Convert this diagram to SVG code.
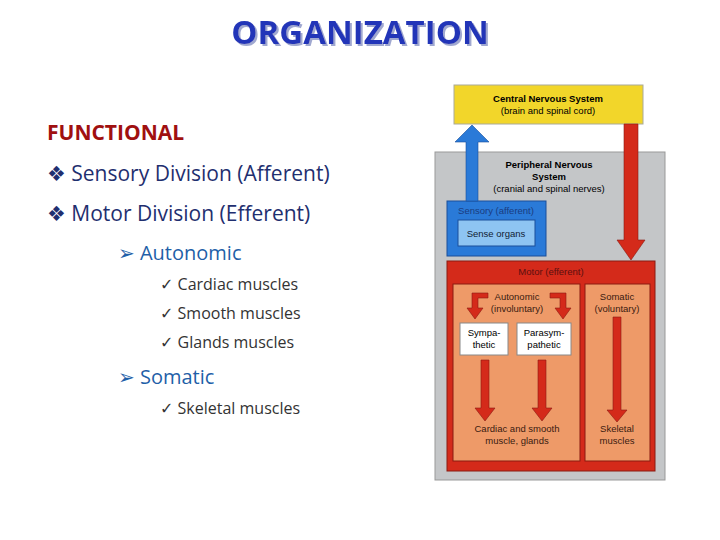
<svg xmlns="http://www.w3.org/2000/svg" width="720" height="540" viewBox="0 0 720 540">
<defs><filter id="sh" x="-5%" y="-20%" width="110%" height="140%"><feDropShadow dx="2" dy="2" stdDeviation="0.5" flood-color="#a0a8d0"/></filter></defs>
<style>
.l{font-family:"Open Sans","DejaVu Sans",sans-serif}
.f{font-family:"Liberation Sans",Arial,sans-serif;font-size:9.5px;text-anchor:middle}
.ra{fill:#d42a1a;stroke:#8a1a10;stroke-width:0.6}
</style>
<rect width="720" height="540" fill="#fff"/>
<g id="title"><text x="360" y="44" class="l" font-size="33" font-weight="bold" fill="#2436b8" text-anchor="middle" filter="url(#sh)">ORGANIZATION</text></g>
<g id="list" class="l">
<text x="47" y="140" font-size="21" font-weight="bold" fill="#a01010">FUNCTIONAL</text>
<text x="47" y="181" font-size="21" fill="#1f2f6f">❖ Sensory Division (Afferent)</text>
<text x="47" y="221" font-size="21" fill="#1f2f6f">❖ Motor Division (Efferent)</text>
<text x="118" y="260" font-size="20" fill="#1f5fa8">➢ Autonomic</text>
<text x="160" y="290" font-size="16" fill="#333">✓  Cardiac muscles</text>
<text x="160" y="319" font-size="16" fill="#333">✓  Smooth muscles</text>
<text x="160" y="348" font-size="16" fill="#333">✓  Glands muscles</text>
<text x="118" y="384" font-size="20" fill="#1f5fa8">➢ Somatic</text>
<text x="160" y="414" font-size="16" fill="#333">✓  Skeletal muscles</text>
</g>
<g id="pns"><rect x="435" y="152" width="230" height="328" fill="#c4c6c8" stroke="#999"/>
<text x="549" y="168" class="f" font-weight="bold">Peripheral Nervous</text><text x="549" y="180" class="f" font-weight="bold">System</text><text x="549" y="192" class="f">(cranial and spinal nerves)</text></g>
<g id="cns"><rect x="454" y="85" width="189" height="39" fill="#f2d62a" stroke="#aa9"/>
<text x="548" y="102" class="f" font-weight="bold">Central Nervous System</text><text x="548" y="114" class="f">(brain and spinal cord)</text></g>
<g id="sensory"><rect x="447" y="201" width="99" height="55" fill="#2a7ad8" stroke="#1a4f9a"/>
<text x="496" y="214" class="f" fill="#1a3c80">Sensory (afferent)</text>
<rect x="458" y="220" width="77" height="26" fill="#8ec4f2" stroke="#1a4f9a"/><text x="496" y="237" class="f" fill="#123">Sense organs</text></g>
<g id="motor"><rect x="447" y="261" width="208" height="210" fill="#d42a1a" stroke="#8a1a10"/>
<text x="551" y="275" class="f" fill="#5a1010">Motor (efferent)</text>
<rect x="453" y="284" width="127" height="177" fill="#ee9a68" stroke="#8a1a10"/>
<rect x="585" y="284" width="65" height="177" fill="#ee9a68" stroke="#8a1a10"/>
<text x="517" y="300" class="f" fill="#3a1a10">Autonomic</text><text x="517" y="312" class="f" fill="#3a1a10">(involuntary)</text>
<text x="617" y="300" class="f" fill="#3a1a10">Somatic</text><text x="617" y="312" class="f" fill="#3a1a10">(voluntary)</text>
<text x="517" y="432" class="f" fill="#3a1a10">Cardiac and smooth</text><text x="517" y="444" class="f" fill="#3a1a10">muscle, glands</text>
<text x="617" y="432" class="f" fill="#3a1a10">Skeletal</text><text x="617" y="444" class="f" fill="#3a1a10">muscles</text></g>
<g id="symp"><rect x="460" y="323" width="48" height="32" fill="#fff" stroke="#888"/><text x="484" y="336" class="f">Sympa-</text><text x="484" y="348" class="f">thetic</text></g>
<g id="para"><rect x="517" y="323" width="54" height="32" fill="#fff" stroke="#888"/><text x="544" y="336" class="f">Parasym-</text><text x="544" y="348" class="f">pathetic</text></g>
<g id="connectors">
<path d="M466,201 V142 H455 L472,125 L489,142 H478 V201Z" fill="#2a7ad8" stroke="#1a4f9a" stroke-width="0.6"/>
<path d="M624,124 H638 V240 H645 L631,260 L617,240 H624Z" class="ra"/>
<path d="M488,293 H472 V308 H467 L475,319 L483,308 H478 V298 H488Z" class="ra"/>
<path d="M550,293 H566 V308 H571 L563,319 L555,308 H560 V298 H550Z" class="ra"/>
<path d="M481,360 H489 V408 H495 L485,421 L475,408 H481Z" class="ra"/>
<path d="M538,360 H546 V408 H552 L542,421 L532,408 H538Z" class="ra"/>
<path d="M613,317 H621 V410 H627 L617,422 L607,410 H613Z" class="ra"/>
</g>
</svg>
